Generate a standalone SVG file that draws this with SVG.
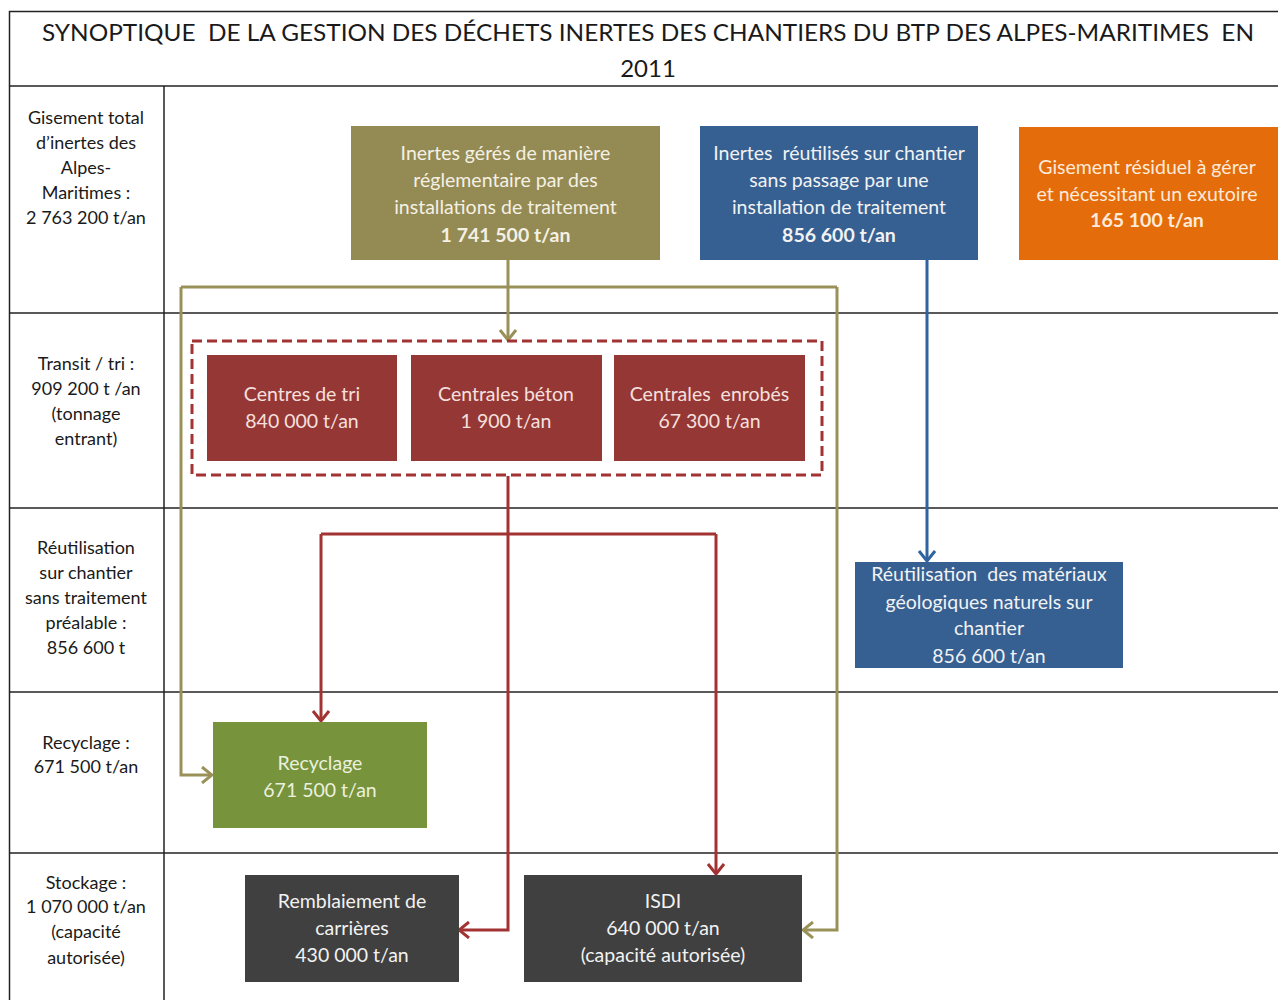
<svg xmlns="http://www.w3.org/2000/svg" width="1278" height="1000" viewBox="0 0 1278 1000">
<defs>
<style>
text{font-family:Lato,"Open Sans","Liberation Sans",sans-serif;white-space:pre}
.lbl{font-size:18px;fill:#1a1a1a;text-anchor:middle}
.bt{font-size:19.5px;text-anchor:middle}
.b{font-weight:bold}
.grid{stroke:#222;stroke-width:1.5;fill:none}
.c{fill:none;stroke-width:3}
.ol{stroke:#9a9158}
.rd{stroke:#a33333}
.bl{stroke:#2f64a0}
</style>
<marker id="aOl" viewBox="0 0 12 18" markerWidth="12" markerHeight="18" refX="11" refY="9" orient="auto" markerUnits="userSpaceOnUse"><path d="M1,1 L11,9 L1,17" fill="none" stroke="#9a9158" stroke-width="3"/></marker>
<marker id="aRd" viewBox="0 0 12 18" markerWidth="12" markerHeight="18" refX="11" refY="9" orient="auto" markerUnits="userSpaceOnUse"><path d="M1,1 L11,9 L1,17" fill="none" stroke="#a33333" stroke-width="3"/></marker>
<marker id="aBl" viewBox="0 0 12 18" markerWidth="12" markerHeight="18" refX="11" refY="9" orient="auto" markerUnits="userSpaceOnUse"><path d="M1,1 L11,9 L1,17" fill="none" stroke="#2f64a0" stroke-width="3"/></marker>
</defs>
<rect x="0" y="0" width="1278" height="1000" fill="#fff"/>
<g id="grid">
<rect class="grid" x="9.5" y="11.5" width="1280" height="1000"/>
<line class="grid" x1="9" y1="86" x2="1278" y2="86"/>
<line class="grid" x1="9" y1="313" x2="1278" y2="313"/>
<line class="grid" x1="9" y1="508" x2="1278" y2="508"/>
<line class="grid" x1="9" y1="692" x2="1278" y2="692"/>
<line class="grid" x1="9" y1="853" x2="1278" y2="853"/>
<line class="grid" x1="164" y1="86" x2="164" y2="1000"/>
</g>
<g id="title">
<text x="42" y="41" font-size="24" fill="#1a1a1a" textLength="1212" lengthAdjust="spacingAndGlyphs">SYNOPTIQUE  DE LA GESTION DES DÉCHETS INERTES DES CHANTIERS DU BTP DES ALPES-MARITIMES  EN</text>
<text x="648" y="77" font-size="24" fill="#1a1a1a" text-anchor="middle">2011</text>
</g>
<g id="row-labels">
<text class="lbl" x="86" y="124">Gisement total</text>
<text class="lbl" x="86" y="149">d’inertes des</text>
<text class="lbl" x="86" y="174">Alpes-</text>
<text class="lbl" x="86" y="199">Maritimes :</text>
<text class="lbl" x="86" y="224">2 763 200 t/an</text>
<text class="lbl" x="86" y="370">Transit / tri :</text>
<text class="lbl" x="86" y="395">909 200 t /an</text>
<text class="lbl" x="86" y="420">(tonnage</text>
<text class="lbl" x="86" y="445">entrant)</text>
<text class="lbl" x="86" y="554">Réutilisation</text>
<text class="lbl" x="86" y="579">sur chantier</text>
<text class="lbl" x="86" y="604">sans traitement</text>
<text class="lbl" x="86" y="629">préalable :</text>
<text class="lbl" x="86" y="654">856 600 t</text>
<text class="lbl" x="86" y="749">Recyclage :</text>
<text class="lbl" x="86" y="773">671 500 t/an</text>
<text class="lbl" x="86" y="889">Stockage :</text>
<text class="lbl" x="86" y="913">1 070 000 t/an</text>
<text class="lbl" x="86" y="938">(capacité</text>
<text class="lbl" x="86" y="964">autorisée)</text>
</g>
<g id="connectors">
<path class="c ol" d="M508,260 V287"/>
<path class="c ol" d="M181,287 H837"/>
<path class="c ol" d="M508,287 V340" marker-end="url(#aOl)"/>
<path class="c ol" d="M181,287 V775 H212" marker-end="url(#aOl)"/>
<path class="c ol" d="M837,287 V930 H803" marker-end="url(#aOl)"/>
<path class="c rd" d="M508,476 V930 H459" marker-end="url(#aRd)"/>
<path class="c rd" d="M321,534 H716"/>
<path class="c rd" d="M321,534 V721" marker-end="url(#aRd)"/>
<path class="c rd" d="M716,534 V874" marker-end="url(#aRd)"/>
<path class="c bl" d="M927,260 V561" marker-end="url(#aBl)"/>
</g>
<g id="n-geres">
<rect x="351" y="126" width="309" height="134" fill="#948a54"/>
<text class="bt" x="505.5" y="160" fill="#f4f1e4">Inertes gérés de manière</text>
<text class="bt" x="505.5" y="187" fill="#f4f1e4">réglementaire par des</text>
<text class="bt" x="505.5" y="214" fill="#f4f1e4">installations de traitement</text>
<text class="bt b" x="505.5" y="242" fill="#f4f1e4">1 741 500 t/an</text>
</g>
<g id="n-reutilises">
<rect x="700" y="126" width="278" height="134" fill="#366092"/>
<text class="bt" x="839" y="160" fill="#f2f2f2">Inertes  réutilisés sur chantier</text>
<text class="bt" x="839" y="187" fill="#f2f2f2">sans passage par une</text>
<text class="bt" x="839" y="214" fill="#f2f2f2">installation de traitement</text>
<text class="bt b" x="839" y="242" fill="#f2f2f2">856 600 t/an</text>
</g>
<g id="n-residuel">
<rect x="1019" y="127" width="259" height="133" fill="#e46c0a"/>
<text class="bt" x="1147" y="174" fill="#fdeada">Gisement résiduel à gérer</text>
<text class="bt" x="1147" y="201" fill="#fdeada">et nécessitant un exutoire</text>
<text class="bt b" x="1147" y="227" fill="#fdeada">165 100 t/an</text>
</g>
<g id="n-transit">
<rect x="192" y="341" width="630" height="134" fill="none" stroke="#a33333" stroke-width="3" stroke-dasharray="10,5"/>
</g>
<g id="n-tri">
<rect x="207" y="355" width="190" height="106" fill="#953735"/>
<text class="bt" x="302" y="401" fill="#f5e0df">Centres de tri</text>
<text class="bt" x="302" y="428" fill="#f5e0df">840 000 t/an</text>
</g>
<g id="n-beton">
<rect x="411" y="355" width="191" height="106" fill="#953735"/>
<text class="bt" x="506" y="401" fill="#f5e0df">Centrales béton</text>
<text class="bt" x="506" y="428" fill="#f5e0df">1 900 t/an</text>
</g>
<g id="n-enrobes">
<rect x="614" y="355" width="191" height="106" fill="#953735"/>
<text class="bt" x="709.5" y="401" fill="#f5e0df">Centrales  enrobés</text>
<text class="bt" x="709.5" y="428" fill="#f5e0df">67 300 t/an</text>
</g>
<g id="n-reutilisation">
<rect x="855" y="562" width="268" height="106" fill="#366092"/>
<text class="bt" x="989" y="581" fill="#f2f2f2">Réutilisation  des matériaux</text>
<text class="bt" x="989" y="609" fill="#f2f2f2">géologiques naturels sur</text>
<text class="bt" x="989" y="635" fill="#f2f2f2">chantier</text>
<text class="bt" x="989" y="663" fill="#f2f2f2">856 600 t/an</text>
</g>
<g id="n-recyclage">
<rect x="213" y="722" width="214" height="106" fill="#77933c"/>
<text class="bt" x="320" y="770" fill="#ebf1de">Recyclage</text>
<text class="bt" x="320" y="797" fill="#ebf1de">671 500 t/an</text>
</g>
<g id="n-remblaiement">
<rect x="245" y="875" width="214" height="107" fill="#404040"/>
<text class="bt" x="352" y="908" fill="#f2f2f2">Remblaiement de</text>
<text class="bt" x="352" y="935" fill="#f2f2f2">carrières</text>
<text class="bt" x="352" y="962" fill="#f2f2f2">430 000 t/an</text>
</g>
<g id="n-isdi">
<rect x="524" y="875" width="278" height="107" fill="#404040"/>
<text class="bt" x="663" y="908" fill="#f2f2f2">ISDI</text>
<text class="bt" x="663" y="935" fill="#f2f2f2">640 000 t/an</text>
<text class="bt" x="663" y="962" fill="#f2f2f2">(capacité autorisée)</text>
</g>
</svg>
